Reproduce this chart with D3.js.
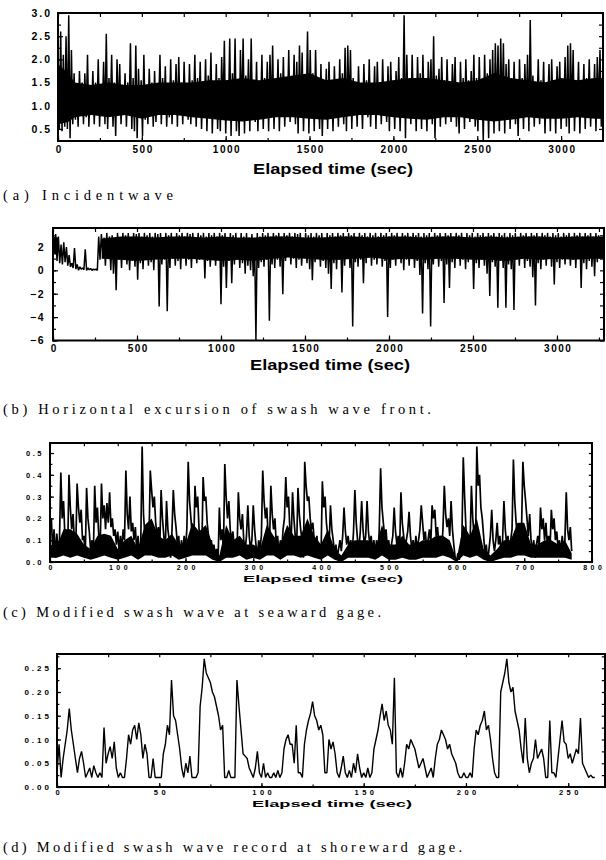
<!DOCTYPE html>
<html>
<head>
<meta charset="utf-8">
<script src="https://cdn.jsdelivr.net/npm/d3@7"></script>
<style>
body { margin: 0; background: #fff; }
svg { display: block; }
.tick text { font-family: "Liberation Sans", Arial, sans-serif; font-weight: bold; fill: #000; }
.tick line { stroke: #000; stroke-width: 1.2; }
.ttl { font-family: "Liberation Sans", Arial, sans-serif; font-weight: bold; fill: #000; }
.cap { font-family: "Liberation Serif", "Times New Roman", serif; font-size: 14.5px; fill: #000; }
</style>
</head>
<body>
<svg id="fig" width="606" height="860"></svg>
<script>
// (a) incident wave, crest / trough read every 8 s
var incidentStep = 8;
var incidentWave = [
  2.0,0.5, 2.6,0.45, 2.1,0.55, 2.5,0.5, 2.95,0.3, 2.2,0.6, 1.7,0.7, 1.45,0.55, 1.75,0.85, 1.5,0.6, 1.7,0.75, 2.1,0.55,
  1.4,0.9, 1.75,0.6, 1.5,0.8, 2.0,0.55, 1.45,0.85, 1.95,0.6, 2.55,0.5, 1.6,0.9, 2.1,0.55, 1.5,0.35, 2.0,0.8, 1.9,0.6,
  1.45,0.85, 1.7,0.55, 1.5,0.9, 2.35,0.5, 1.6,0.45, 2.3,0.3, 1.8,0.8, 1.55,0.35, 2.1,0.7, 1.4,0.6, 1.8,0.9, 1.5,0.55,
  1.75,0.65, 1.4,0.9, 2.1,0.6, 1.6,0.85, 1.85,0.55, 1.45,0.75, 2.0,0.6, 1.55,0.9, 1.9,0.55, 2.05,0.8, 1.5,0.6, 1.95,0.85,
  1.45,0.7, 1.9,0.6, 1.55,0.9, 2.1,0.55, 1.6,0.85, 1.95,0.5, 1.5,0.8, 2.0,0.45, 1.65,0.9, 2.15,0.4, 1.5,0.75, 1.9,0.5,
  1.6,0.45, 2.05,0.85, 2.4,0.4, 1.55,0.8, 2.45,0.35, 1.7,0.9, 2.45,0.45, 1.5,0.35, 2.2,0.8, 2.45,0.4, 1.65,0.85, 2.0,0.45,
  2.45,0.8, 1.55,0.65, 1.95,0.45, 1.5,0.9, 2.1,0.5, 1.6,0.85, 1.95,0.45, 2.1,0.8, 2.3,0.5, 1.55,0.9, 2.0,0.45, 1.7,0.8,
  2.05,0.55, 1.6,0.85, 2.2,0.65, 1.5,0.9, 2.1,0.6, 1.95,0.4, 2.3,0.8, 2.15,0.45, 1.6,0.85, 2.6,0.4, 2.2,0.8, 1.7,0.45,
  2.2,0.85, 1.5,0.5, 1.9,0.35, 1.45,0.9, 1.8,0.5, 1.95,0.85, 1.5,0.45, 1.85,0.9, 1.55,0.55, 2.0,0.8, 1.7,0.6, 2.25,0.45,
  2.3,0.85, 2.2,0.5, 1.6,0.9, 1.45,0.55, 1.85,0.8, 1.4,0.5, 1.9,0.9, 1.55,0.75, 2.0,0.55, 1.45,0.85, 1.85,0.5, 1.95,0.9,
  1.5,0.6, 2.0,0.85, 1.45,0.65, 1.85,0.45, 1.95,0.9, 1.55,0.5, 1.75,0.85, 2.05,0.45, 1.6,0.9, 2.95,0.3, 2.1,0.8, 1.55,0.6,
  2.1,0.85, 1.6,0.45, 2.05,0.9, 1.7,0.5, 2.1,0.8, 1.55,0.45, 1.95,0.9, 2.0,0.6, 2.5,0.3, 1.65,0.85, 1.8,0.55, 2.05,0.9,
  1.55,0.6, 2.0,0.85, 1.5,0.65, 1.9,0.9, 2.05,0.55, 1.45,0.4, 1.95,0.85, 1.6,0.5, 2.0,0.9, 1.55,0.65, 1.75,0.85, 2.1,0.55,
  1.6,0.45, 2.05,0.8, 1.55,0.25, 2.1,0.85, 1.7,0.3, 2.0,0.8, 2.2,0.4, 2.35,0.85, 2.3,0.45, 2.45,0.8, 2.35,0.4, 1.9,0.85,
  2.0,0.5, 1.55,0.85, 1.95,0.6, 1.5,0.35, 2.0,0.9, 1.6,0.5, 1.9,0.85, 2.1,0.45, 2.85,0.8, 1.65,0.55, 1.5,0.9, 2.0,0.6,
  1.55,0.85, 1.95,0.4, 1.45,0.9, 1.9,0.45, 2.0,0.85, 1.5,0.4, 1.85,0.9, 1.95,0.5, 1.55,0.85, 2.05,0.55, 2.3,0.4, 2.35,0.85,
  2.2,0.45, 1.55,0.9, 1.95,0.4, 1.5,0.85, 1.9,0.5, 1.6,0.9, 2.0,0.55, 1.5,0.85, 1.9,0.45, 2.05,0.9, 2.2,0.55, 1.6,0.85
];
// solid core of the incident record (where the trace is fully inked)
var incidentBandTime = [0, 60, 100, 200, 300, 400, 500, 600, 700, 800, 900, 1000, 1100, 1200, 1300, 1400, 1500,
  1600, 1700, 1800, 1900, 2000, 2100, 2200, 2300, 2400, 2500, 2600, 2700, 2800, 2900, 3000, 3100, 3200, 3300];
var incidentBandLow = [0.6, 0.65, 0.75, 0.8, 0.75, 0.8, 0.72, 0.8, 0.8, 0.75, 0.72, 0.68, 0.66, 0.7, 0.75, 0.75, 0.72,
  0.7, 0.75, 0.8, 0.8, 0.75, 0.72, 0.7, 0.75, 0.75, 0.7, 0.66, 0.7, 0.75, 0.72, 0.72, 0.75, 0.72, 0.72];
var incidentBandHigh = [1.9, 1.7, 1.5, 1.45, 1.5, 1.45, 1.45, 1.5, 1.5, 1.5, 1.55, 1.55, 1.6, 1.55, 1.6, 1.65, 1.7,
  1.55, 1.6, 1.5, 1.5, 1.55, 1.6, 1.6, 1.55, 1.5, 1.55, 1.7, 1.6, 1.55, 1.5, 1.6, 1.55, 1.6, 1.6];

// (b) horizontal excursion of swash front, every 8 s
var excursionStep = 8;
var excursion = [
  3.2,1.8, 3.1,0.8, 2.9,0.6, 2.2,0.5, 2.4,0.7, 2.0,0.4, 1.3,0.3, 0.6,0.2, 1.9,0.1, 0.5,0.0, 0.3,0.1, 0.2,0.05,
  1.8,0.0, 0.2,0.05, 0.15,0.0, 0.1,0.05, 0.1,0.0, 2.9,0.9, 3.1,1.5, 2.8,0.4, 3.2,1.2, 2.9,0.0, 3.0,-0.3, 2.7,-1.7,
  3.2,0.9, 2.8,0.2, 3.2,1.1, 3.0,0.5, 3.2,0.0, 2.7,0.8, 3.2,0.3, 3.1,-0.8, 3.2,0.6, 2.9,0.1, 3.2,1.0, 3.0,0.4,
  3.2,0.7, 2.9,0.0, 3.2,1.2, 3.1,-3.1, 3.2,0.5, 2.8,0.9, 3.2,-3.5, 3.0,0.2, 3.2,1.0, 2.7,0.4, 3.2,0.8, 3.0,0.1,
  3.2,1.1, 2.9,0.4, 3.2,0.9, 3.1,0.2, 3.2,1.2, 2.8,0.6, 3.2,0.9, 3.0,1.3, 3.2,-0.7, 2.9,0.8, 3.2,0.3, 3.0,1.0,
  3.2,0.4, 2.9,1.1, 3.2,-2.9, 3.0,0.3, 3.2,-1.5, 2.8,0.8, 3.2,-1.1, 3.0,0.5, 3.2,0.9, 2.7,0.2, 3.2,0.6, 2.9,-0.3,
  3.2,0.4, 2.8,0.0, 3.1,-0.5, 2.6,-6.0, 3.2,0.2, 2.9,0.7, 3.2,0.3, 3.0,0.9, 3.2,-4.3, 2.9,0.5, 3.2,0.2, 3.0,0.9,
  3.2,0.3, 2.9,-2.05, 3.2,0.8, 3.0,1.2, 3.2,0.5, 2.9,1.0, 3.2,0.2, 3.1,0.9, 3.2,0.4, 2.8,1.1, 3.2,0.6, 3.0,0.1,
  3.2,-0.85, 2.9,0.7, 3.2,1.0, 3.0,0.3, 3.2,0.8, 2.8,0.2, 3.2,-0.3, 3.0,-1.6, 3.2,0.6, 2.9,0.1, 3.2,0.9, 3.0,-1.9,
  3.2,0.4, 2.9,1.0, 3.2,0.2, 3.0,-4.8, 3.2,0.7, 2.8,0.3, 3.2,0.9, 3.0,-1.1, 3.2,0.6, 2.9,1.1, 3.2,0.4, 3.0,0.9,
  3.2,0.5, 2.9,1.2, 3.2,0.3, 3.0,0.8, 3.2,-4.0, 2.9,0.2, 3.2,0.9, 3.0,0.4, 3.2,1.1, 2.8,0.6, 3.2,0.0, 3.0,0.9,
  3.2,0.4, 2.9,1.0, 3.2,0.2, 3.0,0.8, 3.2,-0.4, 2.9,-3.7, 3.2,0.6, 3.0,0.1, 3.2,-4.8, 2.9,0.5, 3.2,1.0, 3.0,0.3,
  3.2,0.8, 2.9,-2.8, 3.2,0.5, 3.0,-1.5, 3.2,0.7, 2.9,0.2, 3.2,1.0, 3.0,0.4, 3.2,0.9, 2.8,0.1, 3.2,0.7, 3.0,1.1,
  3.2,-1.6, 2.9,0.6, 3.2,0.2, 3.0,0.9, 3.2,0.4, 2.9,-0.3, 3.2,-2.2, 3.0,0.7, 3.2,0.3, 2.9,-3.2, 3.2,0.8, 3.0,0.2,
  3.2,-3.2, 2.9,0.5, 3.2,0.1, 3.0,-3.4, 3.2,0.9, 2.9,0.4, 3.2,1.0, 3.0,0.2, 3.2,0.8, 2.9,0.3, 3.2,-0.6, 3.0,-3.0,
  3.2,0.6, 2.9,0.1, 3.2,0.9, 3.0,0.4, 3.2,1.0, 2.9,0.3, 3.2,-1.2, 3.0,0.7, 3.2,0.2, 2.9,0.9, 3.2,0.5, 3.0,1.1,
  3.2,0.4, 2.9,0.9, 3.2,0.2, 3.0,1.0, 3.2,-1.5, 2.9,0.6, 3.2,0.1, 3.0,0.8, 3.2,0.3, 2.9,-0.5, 3.2,0.7, 3.0,1.0
];
// solid core of the excursion record
var excursionBandTime = [0, 30, 290, 400, 500, 600, 700, 800, 900, 1000, 1100, 1200, 1300, 1400, 1500, 1600,
  1700, 1800, 1900, 2000, 2100, 2200, 2300, 2400, 2500, 2600, 2700, 2800, 2900, 3000, 3100, 3200, 3300];
var excursionBandLow = [1.4, 1.3, 1.0, 0.9, 0.8, 0.9, 1.0, 1.0, 0.9, 0.8, 0.9, 0.8, 1.0, 1.1, 1.0, 0.9,
  0.9, 1.0, 1.1, 0.9, 1.0, 0.9, 1.0, 1.0, 0.9, 0.9, 0.8, 1.0, 0.9, 1.0, 0.9, 1.0, 1.0];
var excursionBandHigh = [2.9, 2.8, 2.7, 2.9, 2.9, 2.8, 2.9, 2.9, 2.8, 2.9, 2.8, 2.8, 2.9, 2.9, 2.8, 2.8,
  2.9, 2.9, 2.8, 2.9, 2.9, 2.8, 2.9, 2.9, 2.8, 2.9, 2.8, 2.9, 2.9, 2.8, 2.9, 2.9, 2.9];

// (c) swash depth at seaward gage, every 2 s
var seawardStep = 2;
var seawardDepth = [
  0.12,0.2,0.05,0.15,0.02,0.13,0.06,0.1,0.41,0.2,0.28,0.12,0.08,0.03,0.4,0.25,0.15,0.22,0.1,0.06,
  0.36,0.25,0.18,0.24,0.1,0.12,0.02,0.34,0.2,0.14,0.05,0.1,0.03,0.35,0.18,0.25,0.12,0.06,0.36,0.2,
  0.26,0.15,0.27,0.18,0.32,0.16,0.2,0.12,0.15,0.08,0.14,0.05,0.12,0.06,0.15,0.1,0.42,0.22,0.15,0.3,
  0.14,0.18,0.1,0.16,0.05,0.12,0.02,0.1,0.53,0.22,0.12,0.05,0.15,0.08,0.42,0.33,0.25,0.3,0.18,0.12,
  0.16,0.06,0.33,0.2,0.12,0.04,0.28,0.15,0.1,0.02,0.14,0.33,0.22,0.16,0.08,0.12,0.02,0.1,0.04,0.12,
  0.06,0.15,0.46,0.28,0.2,0.12,0.05,0.35,0.25,0.3,0.15,0.1,0.04,0.39,0.28,0.3,0.18,0.12,0.08,0.1,
  0.05,0.08,0.02,0.06,0.0,0.25,0.1,0.15,0.05,0.45,0.3,0.2,0.28,0.15,0.1,0.14,0.06,0.1,0.03,0.32,
  0.2,0.15,0.22,0.1,0.05,0.12,0.26,0.12,0.06,0.1,0.26,0.15,0.08,0.02,0.1,0.06,0.12,0.42,0.28,0.2,
  0.25,0.12,0.08,0.35,0.22,0.15,0.2,0.08,0.12,0.02,0.1,0.05,0.15,0.2,0.39,0.25,0.3,0.15,0.1,0.32,
  0.2,0.12,0.06,0.34,0.22,0.15,0.1,0.02,0.46,0.35,0.28,0.3,0.2,0.15,0.18,0.1,0.06,0.12,0.04,0.08,
  0.02,0.37,0.25,0.3,0.18,0.12,0.08,0.26,0.15,0.1,0.04,0.08,0.02,0.06,0.1,0.05,0.12,0.25,0.14,0.08,
  0.12,0.06,0.1,0.04,0.14,0.33,0.18,0.1,0.06,0.14,0.28,0.15,0.08,0.12,0.28,0.14,0.08,0.12,0.05,0.1,
  0.04,0.1,0.02,0.15,0.43,0.25,0.18,0.12,0.15,0.06,0.1,0.03,0.08,0.12,0.25,0.14,0.08,0.12,0.05,0.32,
  0.18,0.12,0.06,0.1,0.14,0.23,0.12,0.06,0.1,0.04,0.12,0.06,0.1,0.15,0.26,0.18,0.1,0.14,0.06,0.1,
  0.15,0.08,0.26,0.2,0.24,0.12,0.16,0.08,0.12,0.05,0.15,0.35,0.22,0.16,0.2,0.12,0.28,0.15,0.08,0.02,
  0.0,0.04,0.01,0.05,0.12,0.48,0.3,0.15,0.1,0.12,0.08,0.35,0.2,0.12,0.06,0.53,0.35,0.4,0.25,0.2,
  0.12,0.04,0.08,0.0,0.06,0.12,0.24,0.1,0.05,0.1,0.18,0.08,0.12,0.04,0.1,0.28,0.15,0.08,0.12,0.05,
  0.1,0.15,0.47,0.28,0.18,0.1,0.04,0.08,0.15,0.46,0.35,0.28,0.2,0.12,0.22,0.1,0.05,0.1,0.02,0.08,
  0.12,0.06,0.25,0.15,0.2,0.1,0.18,0.08,0.12,0.06,0.24,0.15,0.2,0.1,0.14,0.06,0.1,0.03,0.12,0.06,
  0.1,0.32,0.15,0.1,0.16,0.05
];
// solid (fully inked) part of the seaward record, every 10 s
var seawardBandTime = [0, 10, 20, 30, 40, 50, 60, 70, 80, 90, 100, 110, 120, 130, 140, 150, 160, 170, 180, 190,
  200, 210, 220, 230, 240, 250, 260, 270, 280, 290, 300, 310, 320, 330, 340, 350, 360, 370, 380, 390,
  400, 410, 420, 430, 440, 450, 460, 470, 480, 490, 500, 510, 520, 530, 540, 550, 560, 570, 580, 590,
  600, 610, 620, 630, 640, 650, 660, 670, 680, 690, 700, 710, 720, 730, 740, 750, 760, 770];
var seawardBandLow = [0.02, 0.02, 0.03, 0.02, 0.03, 0.02, 0.01, 0.02, 0.03, 0.02, 0.01, 0.02, 0.03, 0.01, 0.03, 0.03, 0.02, 0.02, 0.03, 0.01,
  0.02, 0.03, 0.03, 0.03, 0.01, 0.0, 0.02, 0.02, 0.03, 0.01, 0.02, 0.01, 0.03, 0.03, 0.01, 0.03, 0.03, 0.02, 0.03, 0.02,
  0.01, 0.03, 0.01, 0.0, 0.02, 0.02, 0.02, 0.02, 0.01, 0.03, 0.01, 0.01, 0.02, 0.01, 0.01, 0.02, 0.02, 0.02, 0.03, 0.02,
  0.0, 0.03, 0.02, 0.03, 0.01, 0.0, 0.01, 0.02, 0.02, 0.03, 0.03, 0.02, 0.02, 0.02, 0.02, 0.02, 0.02, 0.01];
var seawardBandHigh = [0.08, 0.07, 0.15, 0.15, 0.13, 0.08, 0.06, 0.12, 0.13, 0.12, 0.06, 0.1, 0.12, 0.06, 0.17, 0.2, 0.12, 0.1, 0.13, 0.08,
  0.08, 0.18, 0.14, 0.17, 0.08, 0.03, 0.17, 0.1, 0.12, 0.08, 0.08, 0.06, 0.17, 0.12, 0.08, 0.17, 0.12, 0.12, 0.2, 0.12,
  0.08, 0.15, 0.06, 0.03, 0.08, 0.1, 0.1, 0.1, 0.06, 0.17, 0.08, 0.08, 0.12, 0.08, 0.08, 0.1, 0.1, 0.12, 0.12, 0.1,
  0.01, 0.17, 0.12, 0.2, 0.06, 0.03, 0.06, 0.1, 0.1, 0.18, 0.18, 0.08, 0.08, 0.1, 0.1, 0.08, 0.1, 0.04];

// (d) swash depth at shoreward gage, every 1 s
var shorewardStep = 1;
var shorewardDepth = [
  0.03,0.09,0.02,0.06,0.09,0.12,0.165,0.12,0.09,0.06,0.03,0.06,0.075,0.05,0.02,0.03,0.04,0.02,0.045,0.03,
  0.02,0.03,0.02,0.125,0.05,0.07,0.085,0.06,0.095,0.04,0.02,0.03,0.02,0.02,0.06,0.11,0.09,0.12,0.13,0.1,
  0.135,0.11,0.06,0.09,0.07,0.02,0.02,0.06,0.02,0.02,0.02,0.02,0.07,0.09,0.13,0.11,0.225,0.15,0.14,0.11,
  0.08,0.04,0.02,0.05,0.03,0.065,0.02,0.02,0.02,0.03,0.17,0.21,0.27,0.24,0.23,0.22,0.2,0.19,0.17,0.15,
  0.12,0.13,0.02,0.02,0.035,0.02,0.02,0.02,0.225,0.17,0.12,0.07,0.065,0.06,0.04,0.03,0.02,0.04,0.075,0.03,
  0.02,0.05,0.02,0.03,0.02,0.02,0.03,0.02,0.035,0.02,0.03,0.08,0.1,0.11,0.09,0.09,0.05,0.13,0.03,0.03,
  0.02,0.09,0.12,0.14,0.155,0.18,0.15,0.14,0.12,0.13,0.11,0.03,0.03,0.1,0.08,0.095,0.07,0.03,0.02,0.04,
  0.065,0.03,0.02,0.035,0.02,0.05,0.03,0.07,0.04,0.02,0.03,0.02,0.04,0.02,0.03,0.08,0.1,0.12,0.15,0.175,
  0.14,0.16,0.13,0.12,0.09,0.23,0.03,0.02,0.04,0.02,0.05,0.09,0.08,0.1,0.09,0.08,0.06,0.04,0.05,0.06,
  0.04,0.02,0.03,0.04,0.02,0.06,0.09,0.1,0.12,0.11,0.1,0.08,0.09,0.07,0.06,0.05,0.03,0.02,0.02,0.03,
  0.02,0.02,0.03,0.02,0.08,0.12,0.11,0.13,0.14,0.16,0.12,0.13,0.1,0.06,0.03,0.02,0.02,0.2,0.22,0.24,
  0.27,0.22,0.2,0.21,0.16,0.14,0.12,0.08,0.05,0.145,0.06,0.03,0.05,0.06,0.1,0.06,0.07,0.08,0.06,0.02,
  0.02,0.14,0.03,0.03,0.02,0.06,0.1,0.14,0.095,0.09,0.06,0.07,0.05,0.065,0.08,0.07,0.145,0.05,0.04,0.03,
  0.02,0.025,0.02,0.02
];

// tick labels
var longTimeTicks = [0, 500, 1000, 1500, 2000, 2500, 3000];
var incidentTicks = [0.5, 1.0, 1.5, 2.0, 2.5, 3.0];
var excursionTicks = [-6, -4, -2, 0, 2];
var seawardTimeTicks = [0, 100, 200, 300, 400, 500, 600, 700, 800];
var seawardTicks = [0.0, 0.1, 0.2, 0.3, 0.4, 0.5];
var shorewardTimeTicks = [0, 50, 100, 150, 200, 250];
var shorewardTicks = [0.00, 0.05, 0.10, 0.15, 0.20, 0.25];

var svg = d3.select("#fig");

function drawPanel(p) {
    var b = p.box;
    var x = d3.scaleLinear().domain(p.xDomain).range([b.left, b.right]);
    var y = d3.scaleLinear().domain(p.yDomain).range([b.bottom, b.top]);
    var g = svg.append("g");
    var clipUrl = "url(#clip_" + p.id + ")";

    g.append("clipPath").attr("id", "clip_" + p.id)
        .append("rect")
        .attr("x", b.left).attr("y", b.top)
        .attr("width", b.right - b.left).attr("height", b.bottom - b.top);

    if (p.band) {
        var rows = p.band.time.map(function(t, i) {
            return {t: t, lo: p.band.low[i], hi: p.band.high[i]};
        });
        var area = d3.area()
            .x(function(d) { return x(d.t); })
            .y0(function(d) { return y(d.lo); })
            .y1(function(d) { return y(d.hi); });
        // the band is split where the trace thins out
        var pieces = p.band.split ? [rows.slice(0, p.band.split), rows.slice(p.band.split)] : [rows];
        pieces.forEach(function(piece) {
            g.append("path").datum(piece)
                .attr("clip-path", clipUrl)
                .attr("fill", "#000")
                .attr("d", area);
        });
    }

    var line = d3.line()
        .x(function(d, i) { return x(i * p.step); })
        .y(function(d) { return y(d); });

    g.append("path")
        .datum(p.values)
        .attr("clip-path", clipUrl)
        .attr("fill", "none")
        .attr("stroke", "#000")
        .attr("stroke-width", p.lineWidth)
        .attr("stroke-linejoin", "bevel")
        .attr("d", line);

    // inside ticks on all four sides
    var xMinor = d3.range(p.xDomain[0], p.xDomain[1], p.xMinorStep);
    var yMinor = d3.range(p.yDomain[0] - p.yDomain[0] % p.yMinorStep, p.yDomain[1], p.yMinorStep)
        .filter(function(v) { return v >= p.yDomain[0] && v <= p.yDomain[1]; });

    var gb = g.append("g").attr("transform", "translate(0," + b.bottom + ")")
        .call(d3.axisBottom(x).tickValues(p.xTicks).tickFormat(p.xFormat)
            .tickSize(-p.tick).tickPadding(p.xPad));
    g.append("g").attr("transform", "translate(0," + b.bottom + ")")
        .call(d3.axisBottom(x).tickValues(xMinor).tickFormat("").tickSize(-p.tick * 0.6));
    g.append("g").attr("transform", "translate(0," + b.top + ")")
        .call(d3.axisTop(x).tickValues(xMinor).tickFormat("").tickSize(-p.tick * 0.8));

    var gl = g.append("g").attr("transform", "translate(" + b.left + ",0)")
        .call(d3.axisLeft(y).tickValues(p.yTicks).tickFormat(p.yFormat)
            .tickSize(-p.tick).tickPadding(p.yPad));
    g.append("g").attr("transform", "translate(" + b.left + ",0)")
        .call(d3.axisLeft(y).tickValues(yMinor).tickFormat("").tickSize(-p.tick * 0.6));
    g.append("g").attr("transform", "translate(" + b.right + ",0)")
        .call(d3.axisRight(y).tickValues(yMinor).tickFormat("").tickSize(-p.tick * 0.8));

    g.selectAll(".domain").remove();

    gb.selectAll(".tick text")
        .style("font-size", p.xFont + "px")
        .style("letter-spacing", p.xSpacing + "px")
        .attr("dx", p.xSpacing / 2);
    gl.selectAll(".tick text")
        .style("font-size", p.yFont + "px")
        .style("letter-spacing", p.ySpacing + "px");

    g.append("rect")
        .attr("x", b.left).attr("y", b.top)
        .attr("width", b.right - b.left).attr("height", b.bottom - b.top)
        .attr("fill", "none").attr("stroke", "#000").attr("stroke-width", 2);

    g.append("text").attr("class", "ttl")
        .attr("x", p.titleX - 80).attr("y", p.titleY)
        .attr("textLength", 160).attr("lengthAdjust", "spacingAndGlyphs")
        .style("font-size", p.titleFont + "px")
        .text("Elapsed time (sec)");

    g.append("text").attr("class", "cap")
        .attr("x", 3).attr("y", p.capY)
        .attr("textLength", p.capLen).attr("lengthAdjust", "spacing")
        .text(p.caption);
}

drawPanel({
    id: "a", values: incidentWave, step: incidentStep, lineWidth: 1.5,
    band: {time: incidentBandTime, low: incidentBandLow, high: incidentBandHigh},
    box: {left: 58, right: 603, top: 13, bottom: 141},
    xDomain: [0, 3250], yDomain: [0.24, 3.0],
    xTicks: longTimeTicks, xFormat: d3.format("d"), xMinorStep: 250,
    yTicks: incidentTicks, yFormat: d3.format(".1f"), yMinorStep: 0.25,
    tick: 5, xPad: 5, yPad: 6, xFont: 10, xSpacing: 1.5, yFont: 10.5, ySpacing: 2,
    titleX: 333, titleY: 174, titleFont: 14,
    capY: 200, capLen: 170, caption: "(a) Incidentwave"
});

drawPanel({
    id: "b", values: excursion, step: excursionStep, lineWidth: 1.5,
    band: {time: excursionBandTime, low: excursionBandLow, high: excursionBandHigh, split: 2},
    box: {left: 53, right: 604, top: 228, bottom: 340.5},
    xDomain: [0, 3280], yDomain: [-6, 3.62],
    xTicks: longTimeTicks, xFormat: d3.format("d"), xMinorStep: 250,
    yTicks: excursionTicks, yFormat: d3.format("d"), yMinorStep: 1,
    tick: 5, xPad: 4, yPad: 8, xFont: 10, xSpacing: 1.5, yFont: 10.5, ySpacing: 1.5,
    titleX: 330, titleY: 370, titleFont: 14,
    capY: 414, capLen: 428, caption: "(b) Horizontal excursion of swash wave front."
});

drawPanel({
    id: "c", values: seawardDepth, step: seawardStep, lineWidth: 1.7,
    band: {time: seawardBandTime, low: seawardBandLow, high: seawardBandHigh},
    box: {left: 50, right: 592, top: 443, bottom: 562},
    xDomain: [0, 800], yDomain: [0, 0.546],
    xTicks: seawardTimeTicks, xFormat: d3.format("d"), xMinorStep: 50,
    yTicks: seawardTicks, yFormat: d3.format(".1f"), yMinorStep: 0.05,
    tick: 4, xPad: 3, yPad: 6, xFont: 7, xSpacing: 3.5, yFont: 7.5, ySpacing: 2.5,
    titleX: 323, titleY: 582, titleFont: 9,
    capY: 617, capLen: 378, caption: "(c) Modified swash wave at seaward gage."
});

drawPanel({
    id: "d", values: shorewardDepth, step: shorewardStep, lineWidth: 1.4,
    box: {left: 57, right: 605, top: 654, bottom: 787},
    xDomain: [0, 268], yDomain: [0, 0.28],
    xTicks: shorewardTimeTicks, xFormat: d3.format("d"), xMinorStep: 25,
    yTicks: shorewardTicks, yFormat: d3.format(".2f"), yMinorStep: 0.025,
    tick: 4, xPad: 3, yPad: 5, xFont: 7.5, xSpacing: 3.5, yFont: 8, ySpacing: 3,
    titleX: 332, titleY: 807, titleFont: 9.5,
    capY: 852, capLen: 459, caption: "(d) Modified swash wave record at shoreward gage."
});
</script>
</body>
</html>
